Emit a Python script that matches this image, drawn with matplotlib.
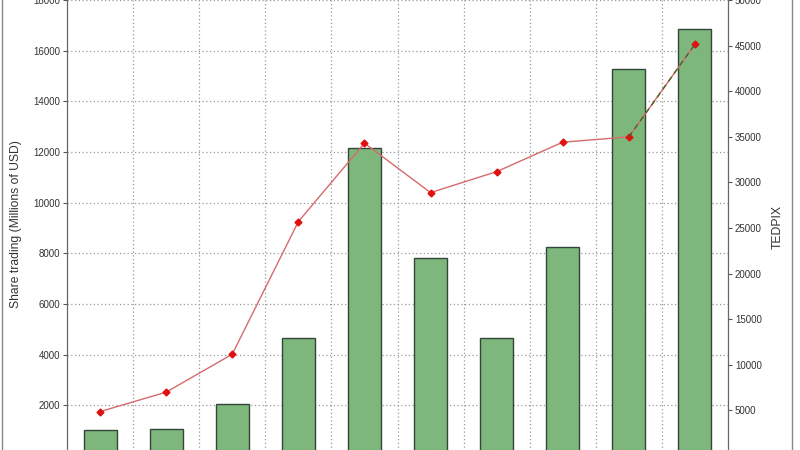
import matplotlib.pyplot as plt
from matplotlib.lines import Line2D
import numpy as np

plt.rcParams['font.family'] = ['Liberation Sans', 'DejaVu Sans']

# values (10 periods, x labels cropped in the reference)
share_trading = [1020, 1070, 2050, 4650, 12150, 7830, 4670, 8260, 15270, 16860]
tedpix = [4870, 7000, 11160, 25700, 34300, 28880, 31180, 34410, 34990, 45150]

left_ticks = list(range(2000, 18001, 2000))
right_ticks = list(range(5000, 50001, 5000))

x = np.arange(len(share_trading))

fig = plt.figure(figsize=(8, 4.5), dpi=100)
ax = fig.add_axes([67 / 800, 1 - 456 / 450, 661 / 800, 456 / 450])

ax.bar(x, share_trading, width=0.5, color='#7db77c', edgecolor='#34463a', linewidth=1.0, zorder=2)
ax.set_xlim(-0.5, len(x) - 0.5)
ax.set_ylim(0, 18000)
ax.set_yticks(left_ticks)
ax.set_xticks(np.arange(-0.5, len(x), 1.0))
ax.set_xticklabels([])
ax.set_axisbelow(True)
ax.grid(True, linestyle=(0, (1, 2)), color='#999999', linewidth=0.9)

ax2 = ax.twinx()
ax2.plot(x, tedpix, color='#d66a6c', linewidth=1.0, marker='D', markersize=3.5,
         markerfacecolor='#e01010', markeredgecolor='#e01010', zorder=3)
ax2.plot(x[8:], tedpix[8:], color='#4f5f2a', linewidth=1.0, linestyle=(0, (4, 3)), zorder=4)
ax2.set_ylim(0, 50000)
ax2.set_yticks(right_ticks)

for a in (ax, ax2):
    a.spines['top'].set_visible(False)
    a.spines['bottom'].set_visible(False)
    a.spines['left'].set_color('#666666')
    a.spines['right'].set_color('#666666')
    a.tick_params(axis='y', labelsize=7, labelcolor='#333333', color='#555555',
                  length=3, width=0.8, pad=2)
    a.tick_params(axis='x', length=0)

fig.text(16 / 800, 1 - 224 / 450, 'Share trading (Millions of USD)', rotation=90,
         ha='center', va='center', fontsize=8.7, color='#333333')
fig.text(778 / 800, 1 - 227 / 450, 'TEDPIX', rotation=90,
         ha='center', va='center', fontsize=8.8, color='#333333')

# outer frame lines visible at the left and right edges
fig.add_artist(Line2D([2 / 800, 2 / 800], [0, 1], color='#888888', linewidth=1.0))
fig.add_artist(Line2D([792 / 800, 792 / 800], [0, 1], color='#888888', linewidth=1.0))

fig.savefig('out.png', dpi=100)
